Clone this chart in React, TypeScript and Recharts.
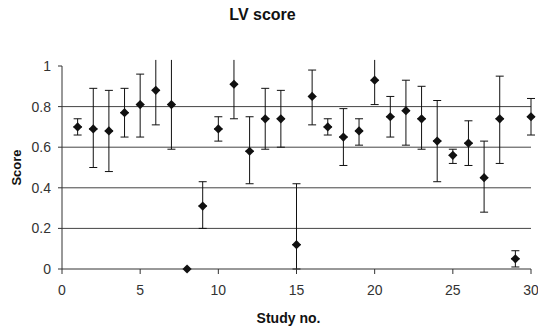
import React from 'react';
import { ScatterChart, Scatter, XAxis, YAxis, ErrorBar, ReferenceLine } from 'recharts';

const studies = [1, 2, 3, 4, 5, 6, 7, 8, 9, 10, 11, 12, 13, 14, 15, 16, 17, 18, 19, 20, 21, 22, 23, 24, 25, 26, 27, 28, 29, 30];
const scores = [0.70, 0.69, 0.68, 0.77, 0.81, 0.88, 0.81, 0.00, 0.31, 0.69, 0.91, 0.58, 0.74, 0.74, 0.12, 0.85, 0.70, 0.65, 0.68, 0.93, 0.75, 0.78, 0.74, 0.63, 0.56, 0.62, 0.45, 0.74, 0.05, 0.75];
const lowerCI = [0.66, 0.50, 0.48, 0.65, 0.65, 0.71, 0.59, 0.00, 0.20, 0.63, 0.74, 0.42, 0.59, 0.60, 0.00, 0.71, 0.66, 0.51, 0.61, 0.81, 0.65, 0.61, 0.59, 0.43, 0.52, 0.51, 0.28, 0.52, 0.01, 0.66];
// upper limits; values above 1 are cut off at the top of the plot in the original
const upperCI = [0.74, 0.89, 0.88, 0.89, 0.96, 1.03, 1.03, 0.00, 0.43, 0.75, 1.03, 0.75, 0.89, 0.88, 0.42, 0.98, 0.74, 0.79, 0.74, 1.03, 0.85, 0.93, 0.90, 0.83, 0.59, 0.73, 0.63, 0.95, 0.09, 0.84];
const xTicks = [0, 5, 10, 15, 20, 25, 30];
const yTicks = [0, 0.2, 0.4, 0.6, 0.8, 1];
const gridValues = [0.2, 0.4, 0.6, 0.8];

const data = studies.map((s, i) => {
  const lo = scores[i] - lowerCI[i];
  const hi = upperCI[i] - scores[i];
  const none = lo === 0 && hi === 0;
  const cut = upperCI[i] > 1;
  return {
    study: s,
    score: scores[i],
    errLow: none ? null : [lo, 0],
    errHigh: none || cut ? null : [0, hi],
    errHighCut: cut ? [0, hi] : null,
  };
});

const Diamond = (props: any) => {
  const { cx, cy } = props;
  if (cx == null || cy == null) return <g />;
  const r = 4.6;
  return <path d={`M${cx},${cy - r}L${cx + r},${cy}L${cx},${cy + r}L${cx - r},${cy}Z`} fill="#111" />;
};

const Empty = () => <g />;

const tickStyle = { fontFamily: 'Arial, Liberation Sans', fontSize: 14, fill: '#333' };

export default function App() {
  return (
    <div style={{ position: 'absolute', left: 0, top: 0, width: 538, height: 331, background: '#fff' }}>
      <div
        style={{
          position: 'absolute',
          left: 0,
          top: 6,
          width: 525,
          textAlign: 'center',
          fontFamily: 'Arial, Liberation Sans',
          fontWeight: 'bold',
          fontSize: 16,
          color: '#111',
        }}
      >
        LV score
      </div>
      <ScatterChart width={538} height={331} margin={{ top: 66, right: 7, bottom: 32, left: 22 }}>
        <XAxis
          type="number"
          dataKey="study"
          domain={[0, 30]}
          ticks={xTicks}
          interval={0}
          height={30}
          tickSize={5}
          tickMargin={11}
          stroke="#333"
          tick={tickStyle}
          label={{
            value: 'Study no.',
            position: 'bottom',
            offset: 14,
            dx: -8,
            style: { fontFamily: 'Arial, Liberation Sans', fontWeight: 'bold', fontSize: 14, fill: '#111' },
          }}
        />
        <YAxis
          yAxisId="main"
          type="number"
          domain={[0, 1]}
          ticks={yTicks}
          allowDataOverflow
          width={40}
          tickSize={4}
          tickMargin={7}
          stroke="#333"
          tick={tickStyle}
          label={{
            value: 'Score',
            angle: -90,
            position: 'insideLeft',
            offset: -6,
            style: { fontFamily: 'Arial, Liberation Sans', fontWeight: 'bold', fontSize: 13, fill: '#111', textAnchor: 'middle' },
          }}
        />
        <YAxis yAxisId="pts" type="number" domain={[0, 1]} hide />
        {gridValues.map((v) => (
          <ReferenceLine key={v} yAxisId="main" y={v} stroke="#444" strokeWidth={1} />
        ))}
        <Scatter yAxisId="main" data={data} dataKey="score" shape={Empty} isAnimationActive={false}>
          <ErrorBar dataKey="errLow" direction="y" width={4} stroke="#111" strokeWidth={1} isAnimationActive={false} />
          <ErrorBar dataKey="errHigh" direction="y" width={4} stroke="#111" strokeWidth={1} isAnimationActive={false} />
          <ErrorBar dataKey="errHighCut" direction="y" width={0} stroke="#111" strokeWidth={1} isAnimationActive={false} />
        </Scatter>
        <Scatter yAxisId="pts" data={data} dataKey="score" shape={Diamond} isAnimationActive={false} />
      </ScatterChart>
    </div>
  );
}
